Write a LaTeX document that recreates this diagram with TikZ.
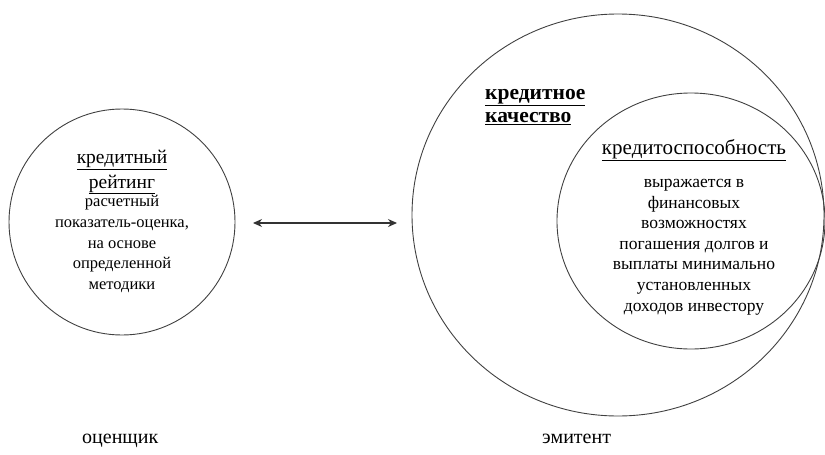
\documentclass[tikz,border=0pt]{standalone}
\usepackage{fontspec}
\setmainfont{Liberation Serif}
\usetikzlibrary{shapes.geometric,arrows.meta}
\tikzset{
  ring/.style={draw=black!75, line width=0.9pt, ellipse, inner sep=0pt},
  txt/.style={align=center, inner sep=0pt, anchor=north, font=\fontsize{16.5}{20.8}\selectfont},
  lbl/.style={inner sep=0pt, anchor=base west, font=\fontsize{20}{24}\selectfont},
  link/.style={{Stealth[length=9pt,width=8pt]}-{Stealth[length=9pt,width=8pt]}, line width=1.3pt, black!80}
}
\begin{document}
\begin{tikzpicture}[x=1pt,y=-1pt]
\useasboundingbox (0,0) rectangle (825,455);
% circles
\node[ring, minimum width=226pt, minimum height=226pt] (rating) at (122,222) {};
\node[ring, minimum width=412pt, minimum height=402pt] (quality) at (618,215) {};
\node[ring, minimum width=268pt, minimum height=256pt] (solv) at (691,221) {};
% texts
\node[txt, font=\fontsize{19.5}{24.5}\selectfont] (ratinghead) at (122,150) {\underline{кредитный}\\\underline{рейтинг}};
\node[txt] (ratingtxt) at (122,195) {расчетный\\показатель-оценка,\\на основе\\определенной\\методики};
\node[txt, anchor=north west, align=left, font=\fontsize{21.5}{23}\bfseries\selectfont] (qualtxt) at (485,89) {\underline{кредитное}\\\underline{качество}};
\node[txt, font=\fontsize{21}{24}\selectfont] (solvhead) at (694,139) {\underline{кредитоспособность}};
\node[txt, font=\fontsize{17.5}{20.6}\selectfont] (solvtxt) at (694,179) {выражается в\\финансовых\\возможностях\\погашения долгов и\\выплаты минимально\\установленных\\доходов инвестору};
% labels
\node[lbl] (appraiser) at (82,443) {оценщик};
\node[lbl] (issuer) at (542,443) {эмитент};
% arrow
\coordinate (aL) at (253,223);
\coordinate (aR) at (397,223);
\draw[link] (aL) -- (aR);
\end{tikzpicture}
\end{document}
